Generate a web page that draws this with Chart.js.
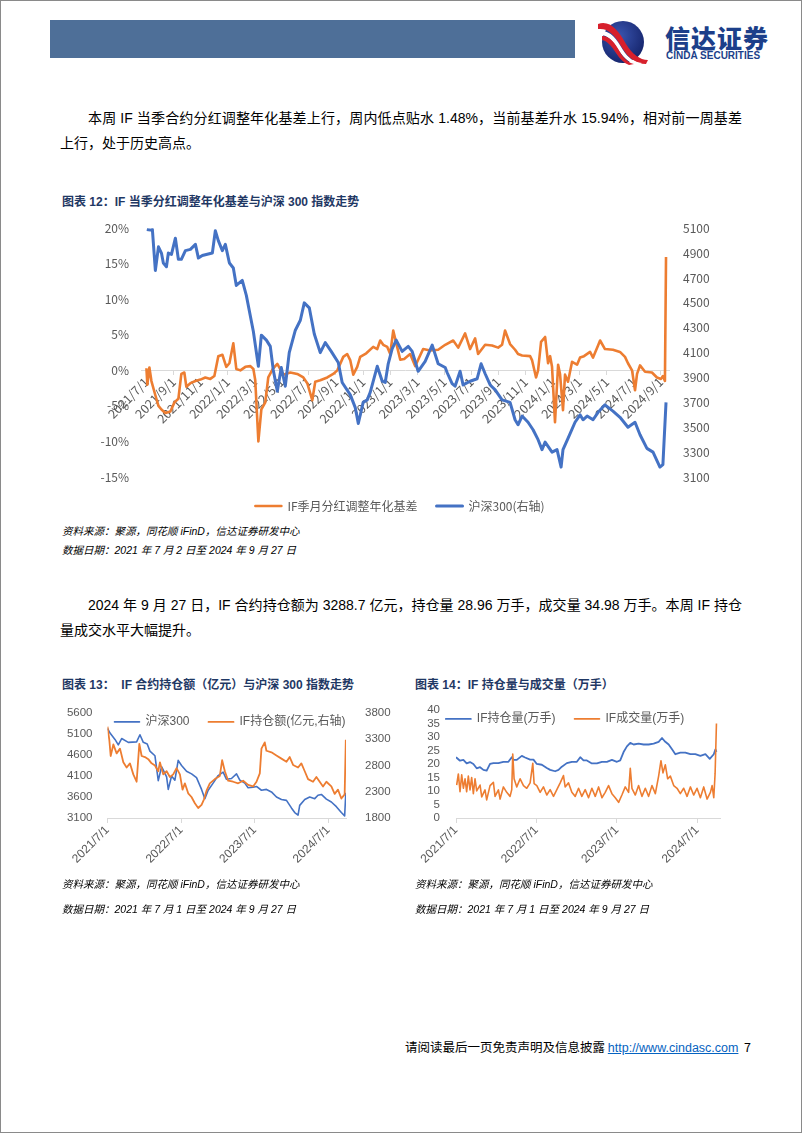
<!DOCTYPE html>
<html>
<head>
<meta charset="utf-8">
<script src="https://cdn.jsdelivr.net/npm/chart.js@4.4.1/dist/chart.umd.min.js"></script>
<style>
  body { margin: 0; width: 802px; height: 1133px; position: relative; background: #fff; overflow: hidden;
         font-family: "Liberation Sans", "Noto Sans CJK SC", sans-serif; color: #000; }
  .abs { position: absolute; white-space: nowrap; }
  .frame { position: absolute; left: 0; top: 0; width: 802px; height: 1133px; box-sizing: border-box; border: 1px solid #8a8a8a; pointer-events: none; }
  .bar { left: 50px; top: 20px; width: 525px; height: 38px; background: #4e6f98; }
  .brand { left: 665px; top: 23px; font-family: "Noto Sans CJK SC", sans-serif; font-weight: 900; font-size: 25px; line-height: 28px; color: #1c3f8a; letter-spacing: 1px; }
  .brand-en { left: 666px; top: 50px; font-weight: bold; font-size: 10px; line-height: 12px; color: #1c3f8a; }
  .para { font-size: 14px; line-height: 24px; }
  .line1 { left: 88px; width: 654px; text-align: justify; text-align-last: justify; }
  .title { left: 62px; font-size: 12px; line-height: 16px; font-weight: bold; color: #1f3864; }
  .src { font-size: 10.5px; line-height: 14px; font-style: italic; color: #000; }
  canvas { position: absolute; }
  .foot { left: 405px; top: 1039px; font-size: 12.5px; line-height: 16px; font-family: "Noto Sans CJK SC", sans-serif; }
  .foot a { color: #0563c1; text-decoration: underline; font-family: "Liberation Sans", sans-serif; }
</style>
</head>
<body>
<div class="abs bar"></div>
<svg class="abs" style="left:596px;top:16px" width="56" height="50" viewBox="0 0 56 50">
  <defs>
    <radialGradient id="g" cx="0.4" cy="0.35" r="0.7">
      <stop offset="0" stop-color="#3a55b0"/><stop offset="1" stop-color="#14236a"/>
    </radialGradient>
  </defs>
  <circle cx="27" cy="26" r="21" fill="url(#g)"/>
  <path d="M2 8 C14 4 22 14 30 28 C36 38 44 44 52 44 L50 48 C40 48 32 42 25 30 C18 18 12 12 2 13 Z" fill="#d7202c"/>
  <path d="M4 15 C14 14 20 22 27 34 C32 42 38 46 46 47 L42 49 C34 48 28 42 23 35 C17 25 12 19 4 19 Z" fill="#fff"/>
  <path d="M6 20 C14 20 19 27 24 36 C28 43 33 47 38 48 L33 49 C28 47 24 43 20 37 C15 29 11 25 6 24 Z" fill="#d7202c"/>
</svg>
<div class="abs brand">信达证券</div>
<div class="abs brand-en">CINDA SECURITIES</div>

<div class="abs para line1" style="top:106px">本周 IF 当季合约分红调整年化基差上行，周内低点贴水 1.48%，当前基差升水 15.94%，相对前一周基差</div>
<div class="abs para" style="left:60px;top:131px">上行，处于历史高点。</div>

<div class="abs title" style="top:194px">图表 12：IF 当季分红调整年化基差与沪深 300 指数走势</div>
<canvas id="c12" width="680" height="303" style="left:60px;top:215px"></canvas>
<div class="abs src" style="left:62px;top:524px">资料来源：聚源，同花顺 iFinD，信达证券研发中心</div>
<div class="abs src" style="left:62px;top:543px">数据日期：2021 年 7 月 2 日至 2024 年 9 月 27 日</div>

<div class="abs para line1" style="top:593px">2024 年 9 月 27 日，IF 合约持仓额为 3288.7 亿元，持仓量 28.96 万手，成交量 34.98 万手。本周 IF 持仓</div>
<div class="abs para" style="left:60px;top:618px">量成交水平大幅提升。</div>

<div class="abs title" style="top:677px">图表 13：&nbsp;&nbsp;IF 合约持仓额（亿元）与沪深 300 指数走势</div>
<div class="abs title" style="left:415px;top:677px">图表 14：IF 持仓量与成交量（万手）</div>
<canvas id="c13" width="340" height="221" style="left:60px;top:695px"></canvas>
<canvas id="c14" width="330" height="221" style="left:410px;top:695px"></canvas>
<div class="abs src" style="left:62px;top:877px">资料来源：聚源，同花顺 iFinD，信达证券研发中心</div>
<div class="abs src" style="left:62px;top:902px">数据日期：2021 年 7 月 1 日至 2024 年 9 月 27 日</div>
<div class="abs src" style="left:415px;top:877px">资料来源：聚源，同花顺 iFinD，信达证券研发中心</div>
<div class="abs src" style="left:415px;top:902px">数据日期：2021 年 7 月 1 日至 2024 年 9 月 27 日</div>

<div class="abs foot">请阅读最后一页免责声明及信息披露 <a>http://www.cindasc.com</a>&nbsp;&nbsp;7</div>
<div class="frame"></div>

<script>
const ORANGE = "#ed7d31";
const BLUE = "#4472c4";
const GREY = "#595959";

// x values are months since 2021/7/1
const ticks12 = [0,2,4,6,8,10,12,14,16,18,20,22,24,26,28,30,32,34,36,38];
const tickLabels12 = ["2021/7/1","2021/9/1","2021/11/1","2022/1/1","2022/3/1","2022/5/1","2022/7/1","2022/9/1","2022/11/1","2023/1/1",
  "2023/3/1","2023/5/1","2023/7/1","2023/9/1","2023/11/1","2024/1/1","2024/3/1","2024/5/1","2024/7/1","2024/9/1"];

// IF季月分红调整年化基差 (%)
const basisT = [0.00,0.07,0.22,0.37,0.66,0.89,1.11,1.40,1.77,2.07,2.36,2.58,2.80,2.95,3.25,3.62,3.99,4.35,4.72,5.02,
  5.31,5.61,5.90,6.13,6.42,6.64,6.94,7.31,7.68,7.90,8.04,8.27,8.49,8.78,9.00,9.37,9.67,10.11,10.63,11.14,
  11.59,11.88,12.25,12.47,12.84,13.36,13.80,14.10,14.54,14.83,15.06,15.28,15.57,15.79,16.24,16.75,17.05,17.27,17.49,17.79,
  18.01,18.23,18.52,18.75,19.04,19.48,19.85,20.44,20.96,21.55,22.07,22.66,23.03,23.54,23.91,24.28,24.50,25.02,25.53,25.98,
  26.27,26.49,26.86,27.23,27.45,27.75,28.34,28.49,28.78,28.93,29.15,29.45,29.67,29.82,29.96,30.18,30.41,30.55,30.77,30.92,
  31.14,31.44,31.81,32.03,32.32,32.77,32.99,33.36,33.51,33.87,34.46,34.98,35.35,35.57,35.87,36.09,36.24,36.46,36.83,37.34,
  37.71,38.01,38.15,38.30,38.38];
const basisV = [0.3,-2.0,0.4,-1.5,-3.5,-5.0,-5.5,-6.0,-5.8,-4.5,-4.0,-0.5,-0.3,-2.3,-1.8,-1.5,-1.3,-1.0,-1.2,-0.8,
  2.0,2.2,0.5,1.0,3.8,0.2,0.0,0.5,0.6,0.2,-1.4,-10.0,-5.5,-4.5,-1.0,0.3,0.9,-0.6,-0.3,-0.5,
  -1.0,-1.8,-4.2,-1.6,-1.4,-1.0,-0.5,0.0,1.9,2.3,1.4,-0.6,0.5,1.9,2.4,3.3,3.0,4.2,3.6,3.3,
  2.3,5.6,3.3,1.5,1.6,2.3,0.6,3.0,2.8,2.9,3.6,4.2,3.2,5.2,3.0,4.5,2.3,3.6,3.5,3.2,
  3.6,5.6,3.7,2.9,2.3,2.1,2.0,1.4,-1.0,0.0,4.0,4.7,1.0,2.0,0.5,-7.3,0.8,-0.5,-5.6,-0.6,
  -1.6,1.2,0.8,1.8,2.0,2.6,1.8,3.5,4.2,3.0,2.9,2.6,1.9,1.0,0.0,-2.8,-0.5,0.7,-0.2,-0.3,
  -1.0,-1.2,-0.8,-1.48,15.94];

// 沪深300 (right axis)
const hs300T = [0.03,0.30,0.44,0.66,0.89,1.11,1.25,1.48,1.62,1.85,2.14,2.36,2.58,2.88,3.25,3.62,3.84,4.13,4.50,4.87,
  5.09,5.31,5.61,5.83,6.13,6.42,6.64,7.08,7.38,7.90,8.27,8.49,8.86,9.15,9.37,9.67,9.96,10.26,10.55,11.00,
  11.37,11.66,12.03,12.40,12.84,13.21,13.65,14.17,14.46,15.06,15.42,15.65,16.01,16.31,16.53,16.83,17.05,17.42,17.64,17.86,
  18.15,18.45,18.89,19.34,19.63,20.07,20.59,21.11,21.55,22.07,22.21,22.58,22.80,23.17,23.39,23.91,24.43,24.72,25.02,25.39,
  25.76,26.27,26.86,27.23,27.45,27.75,28.19,28.56,28.93,29.22,29.45,29.96,30.33,30.63,30.77,31.14,31.66,32.03,32.25,32.55,
  32.99,33.36,33.87,34.46,34.98,35.57,36.09,36.46,36.97,37.42,37.93,38.15,38.38];
const hs300V = [5090,5085,5090,4760,4950,4900,4820,4790,4900,4890,5020,4850,4850,4920,4930,4970,4860,4880,4890,4900,
  5080,5000,4920,4970,4820,4780,4640,4680,4560,4270,3990,4240,4200,4150,3960,3790,3980,3830,4100,4280,
  4360,4500,4460,4250,4100,4180,4110,4020,3860,3760,3660,3530,3700,3720,3780,3900,3990,3870,3860,4010,
  4130,4200,4110,4150,4110,3950,4030,4160,4010,3980,3940,3850,3830,3950,3840,3870,3890,4010,3930,3840,
  3800,3720,3700,3560,3520,3590,3540,3480,3400,3320,3380,3300,3320,3180,3320,3410,3540,3600,3560,3590,
  3560,3620,3680,3630,3580,3500,3540,3440,3330,3300,3180,3200,3700];

const ticksYear = [0,12,24,36];
const tickLabelsYear = ["2021/7/1","2022/7/1","2023/7/1","2024/7/1"];

// 图表13: 沪深300 (left) and IF持仓额 (亿元, right)
const hs13T = [0,0.41,1.22,1.76,2.31,3.39,4.75,5.29,5.84,6.48,6.92,7.74,8.28,8.82,9.64,9.91,10.45,10.99,11.53,12.08,
  12.89,13.71,14.52,15.34,15.88,16.42,17.23,18.05,18.86,19.41,20.22,21.04,21.58,22.39,22.93,23.75,24.30,25.11,25.93,26.74,
  27.56,28.37,29.19,30.00,30.54,31.08,31.35,32.17,32.98,33.80,34.33,34.88,35.70,36.51,37.33,38.14,38.68,38.87];
const hs13V = [5230,5120,4970,4840,4990,4900,4910,5080,4900,4860,4690,4580,3990,4320,4080,3780,4100,4000,4470,4350,
  4210,4150,4060,3780,3560,3760,3930,4110,4190,4020,4040,4150,4000,3930,3820,3830,3850,3760,3780,3720,
  3600,3540,3520,3340,3230,3170,3400,3540,3600,3560,3640,3660,3550,3480,3370,3230,3150,3700];
const oiAmtT = [0,0.30,0.52,0.95,1.49,2.04,2.58,3.12,3.66,4.21,4.75,5.19,5.57,6.11,6.65,7.19,7.74,8.28,8.55,9.09,
  9.64,10.18,10.72,11.26,11.81,12.24,12.62,13.16,13.70,14.25,14.79,15.34,15.72,16.15,16.69,17.51,18.32,18.70,19.14,19.68,
  20.49,21.31,22.12,22.94,23.75,24.30,24.84,25.11,25.65,25.92,26.74,27.55,28.37,29.19,29.72,30.27,31.08,31.62,32.17,32.71,
  33.52,34.07,34.61,35.15,35.70,36.51,37.05,37.59,38.14,38.68,38.87];
const oiAmtV = [3540,3280,2980,3200,3030,3120,2860,2760,2840,2630,2490,3210,2980,2960,2920,2840,2800,2690,2860,2630,
  2690,2580,2630,2750,2630,2340,2460,2270,2200,2080,1990,2050,2150,2320,2460,2540,2600,2900,2690,2510,
  2490,2460,2510,2430,2400,2490,2650,3120,3240,3080,3050,2990,2930,2870,2960,2810,2760,2840,2690,2540,
  2490,2580,2490,2400,2490,2400,2260,2340,2170,2250,3289];

// 图表14: IF持仓量, IF成交量 (万手)
const oiT = [0,0.60,1.10,1.59,2.09,2.59,3.09,3.59,4.09,4.58,5.08,5.58,6.33,7.07,7.82,8.32,8.57,9.07,9.82,10.31,
  11.06,11.56,12.06,12.81,13.55,14.05,14.80,15.30,15.80,16.54,17.29,18.04,18.54,19.03,19.53,20.28,21.03,21.78,22.52,23.27,
  24.02,24.51,25.01,25.51,26.01,26.51,27.25,28.00,28.75,29.50,30.24,30.74,31.24,31.74,32.24,32.74,33.48,34.23,34.98,35.72,
  36.47,37.22,37.87,38.47,38.72,38.87];
const oiV = [22.5,21.2,21.5,20.2,20.7,20.0,18.4,18.8,17.8,17.5,20.0,20.3,20.3,20.8,20.8,22.5,21.5,21.5,23.0,22.4,
  21.6,21.6,20.0,19.7,18.5,17.8,17.3,17.8,19.0,20.3,20.8,20.8,22.5,21.3,21.3,20.2,20.2,20.8,20.8,21.5,
  20.8,21.3,24.4,26.5,27.8,27.2,27.5,27.2,27.2,27.5,28.2,29.6,28.2,27.2,25.4,23.6,24.2,24.2,23.6,23.6,
  23.0,23.6,21.9,23.6,25.4,24.5];
const volT = [0.10,0.35,0.60,0.85,1.10,1.35,1.59,1.84,2.09,2.34,2.59,2.84,3.09,3.59,3.84,4.33,4.58,5.08,5.58,5.83,
  6.33,6.58,7.07,7.57,8.07,8.32,8.47,8.67,9.07,9.57,10.07,10.56,11.06,11.46,11.66,12.06,12.56,13.05,13.55,14.05,
  14.55,15.05,15.55,16.04,16.29,16.79,17.29,17.79,18.29,18.78,19.28,19.78,20.28,20.78,21.28,21.78,22.27,22.77,23.27,23.77,
  24.27,24.76,25.26,25.76,26.01,26.26,26.76,27.25,27.75,28.25,28.75,29.25,29.75,30.24,30.59,30.89,31.24,31.59,31.99,32.49,
  32.99,33.48,33.98,34.48,34.98,35.47,35.97,36.47,36.97,37.47,37.97,38.22,38.47,38.67,38.87];
const volV = [12.2,16.3,9.7,16.0,11.0,14.5,9.7,15.5,10.4,15.0,9.0,14.5,10.0,12.2,7.8,10.4,6.7,12.0,13.2,8.0,
  10.4,7.0,11.5,9.5,8.0,10.5,23.7,14.5,11.5,14.5,12.0,11.0,13.0,20.2,12.7,12.0,9.5,11.5,8.5,10.5,
  8.0,10.5,13.0,15.7,11.5,13.0,9.5,8.0,11.0,8.0,10.5,7.5,11.0,8.0,11.5,7.5,9.5,12.0,9.0,7.5,
  5.8,8.5,11.5,9.5,18.4,11.0,8.5,12.0,8.0,11.0,8.0,12.0,9.0,15.5,21.2,16.7,19.7,14.5,15.5,12.0,
  11.0,9.0,11.0,8.0,11.5,8.5,11.0,7.5,11.5,7.0,9.5,12.0,7.5,16.5,34.98];

const pts = (t, v) => t.map((x, i) => ({ x: x, y: v[i] }));
const plain = v => String(v);

// moves the legend box after layout (Excel puts it where Chart.js would not)
const legendMove = {
  id: "legendMove",
  afterLayout(chart, args, opts) {
    const l = chart.legend, a = chart.chartArea;
    if (!l || opts.offset === undefined) return;
    const h = l.height;
    l.top = (opts.from === "top" ? a.top : a.bottom) + opts.offset;
    l.bottom = l.top + h;
  }
};

const cjk12 = { family: '"Noto Sans CJK SC", sans-serif', size: 12 };
const cjkX = { family: '"Noto Sans CJK SC", sans-serif', size: 12.5 };
const font13 = { family: '"Liberation Sans", "Noto Sans CJK SC", sans-serif', size: 11.5 };
const fontX13 = { family: '"Liberation Sans", "Noto Sans CJK SC", sans-serif', size: 12 };
const legFont = { family: '"Liberation Sans", "Noto Sans CJK SC", sans-serif', size: 12 };
const bySet = (a, b) => a.datasetIndex - b.datasetIndex;

new Chart(document.getElementById("c12"), {
  type: "line",
  data: {
    datasets: [
      { label: "IF季月分红调整年化基差", data: pts(basisT, basisV), borderColor: ORANGE, backgroundColor: ORANGE, borderWidth: 2.6, yAxisID: "y", order: 1 },
      { label: "沪深300(右轴)", data: pts(hs300T, hs300V), borderColor: BLUE, backgroundColor: BLUE, borderWidth: 3, yAxisID: "y1", order: 0 }
    ]
  },
  options: {
    responsive: false, animation: false,
    elements: { point: { radius: 0 }, line: { tension: 0, borderJoinStyle: "round" } },
    layout: { padding: { top: 13 } },
    scales: {
      x: {
        type: "linear", position: { y: 0 }, min: -0.4, max: 38.6,
        afterBuildTicks: s => { s.ticks = ticks12.map(v => ({ value: v })); },
        ticks: { autoSkip: false, minRotation: 45, maxRotation: 45, color: GREY, font: cjkX, padding: 0,
                 callback: (v, i) => tickLabels12[i] },
        grid: { drawOnChartArea: false, tickLength: 4, color: "#d9d9d9" },
        border: { color: "#d9d9d9" }
      },
      y: {
        position: "left", min: -15, max: 20,
        ticks: { stepSize: 5, autoSkip: false, color: GREY, font: cjk12, padding: 4, callback: v => v + "%" },
        grid: { display: false }, border: { display: false },
        afterFit: s => { s.width = 81; }
      },
      y1: {
        position: "right", min: 3100, max: 5100,
        ticks: { stepSize: 200, autoSkip: false, color: GREY, font: cjk12, padding: 6, callback: plain },
        grid: { display: false }, border: { display: false },
        afterFit: s => { s.width = 71; }
      }
    },
    plugins: {
      legend: { position: "bottom", labels: { boxWidth: 26, boxHeight: 0, padding: 19, color: GREY, font: cjk12, sort: bySet } },
      tooltip: { enabled: false },
      legendMove: { from: "bottom", offset: 4 }
    }
  },
  plugins: [legendMove]
});

new Chart(document.getElementById("c13"), {
  type: "line",
  data: {
    datasets: [
      { label: "沪深300", data: pts(hs13T, hs13V), borderColor: BLUE, backgroundColor: BLUE, borderWidth: 1.6, yAxisID: "y", order: 1 },
      { label: "IF持仓额(亿元,右轴)", data: pts(oiAmtT, oiAmtV), borderColor: ORANGE, backgroundColor: ORANGE, borderWidth: 1.8, yAxisID: "y1", order: 0 }
    ]
  },
  options: {
    responsive: false, animation: false,
    elements: { point: { radius: 0 }, line: { tension: 0, borderJoinStyle: "round" } },
    layout: { padding: { top: 8 } },
    scales: {
      x: {
        type: "linear", min: 0, max: 38.9,
        afterBuildTicks: s => { s.ticks = ticksYear.map(v => ({ value: v })); },
        ticks: { autoSkip: false, minRotation: 45, maxRotation: 45, color: GREY, font: fontX13, padding: 0,
                 callback: (v, i) => tickLabelsYear[i] },
        grid: { drawOnChartArea: false, tickLength: 5, color: "#d9d9d9" },
        border: { color: "#d9d9d9" },
        afterFit: s => { s.height = 57; }
      },
      y: {
        position: "left", min: 3100, max: 5600,
        ticks: { stepSize: 500, autoSkip: false, color: GREY, font: font13, padding: 7, callback: plain },
        grid: { display: false }, border: { display: false },
        afterFit: s => { s.width = 47.5; }
      },
      y1: {
        position: "right", min: 1800, max: 3800,
        ticks: { stepSize: 500, autoSkip: false, color: GREY, font: font13, padding: 11, callback: plain },
        grid: { display: false }, border: { display: false },
        afterFit: s => { s.width = 54; }
      }
    },
    plugins: {
      legend: { position: "bottom", labels: { boxWidth: 25, boxHeight: 0, padding: 19, color: GREY, font: legFont, sort: bySet } },
      tooltip: { enabled: false },
      legendMove: { from: "top", offset: -16 }
    }
  },
  plugins: [legendMove]
});

new Chart(document.getElementById("c14"), {
  type: "line",
  data: {
    datasets: [
      { label: "IF持仓量(万手)", data: pts(oiT, oiV), borderColor: BLUE, backgroundColor: BLUE, borderWidth: 1.8, order: 1 },
      { label: "IF成交量(万手)", data: pts(volT, volV), borderColor: ORANGE, backgroundColor: ORANGE, borderWidth: 1.6, order: 0 }
    ]
  },
  options: {
    responsive: false, animation: false,
    elements: { point: { radius: 0 }, line: { tension: 0, borderJoinStyle: "round" } },
    layout: { padding: { top: 8, right: 20 } },
    scales: {
      x: {
        type: "linear", min: 0, max: 39.4,
        afterBuildTicks: s => { s.ticks = ticksYear.map(v => ({ value: v })); },
        ticks: { autoSkip: false, minRotation: 45, maxRotation: 45, color: GREY, font: fontX13, padding: 0,
                 callback: (v, i) => tickLabelsYear[i] },
        grid: { drawOnChartArea: false, tickLength: 5, color: "#d9d9d9" },
        border: { color: "#d9d9d9" },
        afterFit: s => { s.height = 57; }
      },
      y: {
        position: "left", min: 0, max: 40,
        ticks: { stepSize: 5, autoSkip: false, color: GREY, font: font13, padding: 8, callback: plain },
        grid: { display: false }, border: { display: false },
        afterFit: s => { s.width = 46; }
      }
    },
    plugins: {
      legend: { position: "bottom", labels: { boxWidth: 25, boxHeight: 0, padding: 19, color: GREY, font: legFont, sort: bySet } },
      tooltip: { enabled: false },
      legendMove: { from: "top", offset: -16 }
    }
  },
  plugins: [legendMove]
});
</script>
</body>
</html>
